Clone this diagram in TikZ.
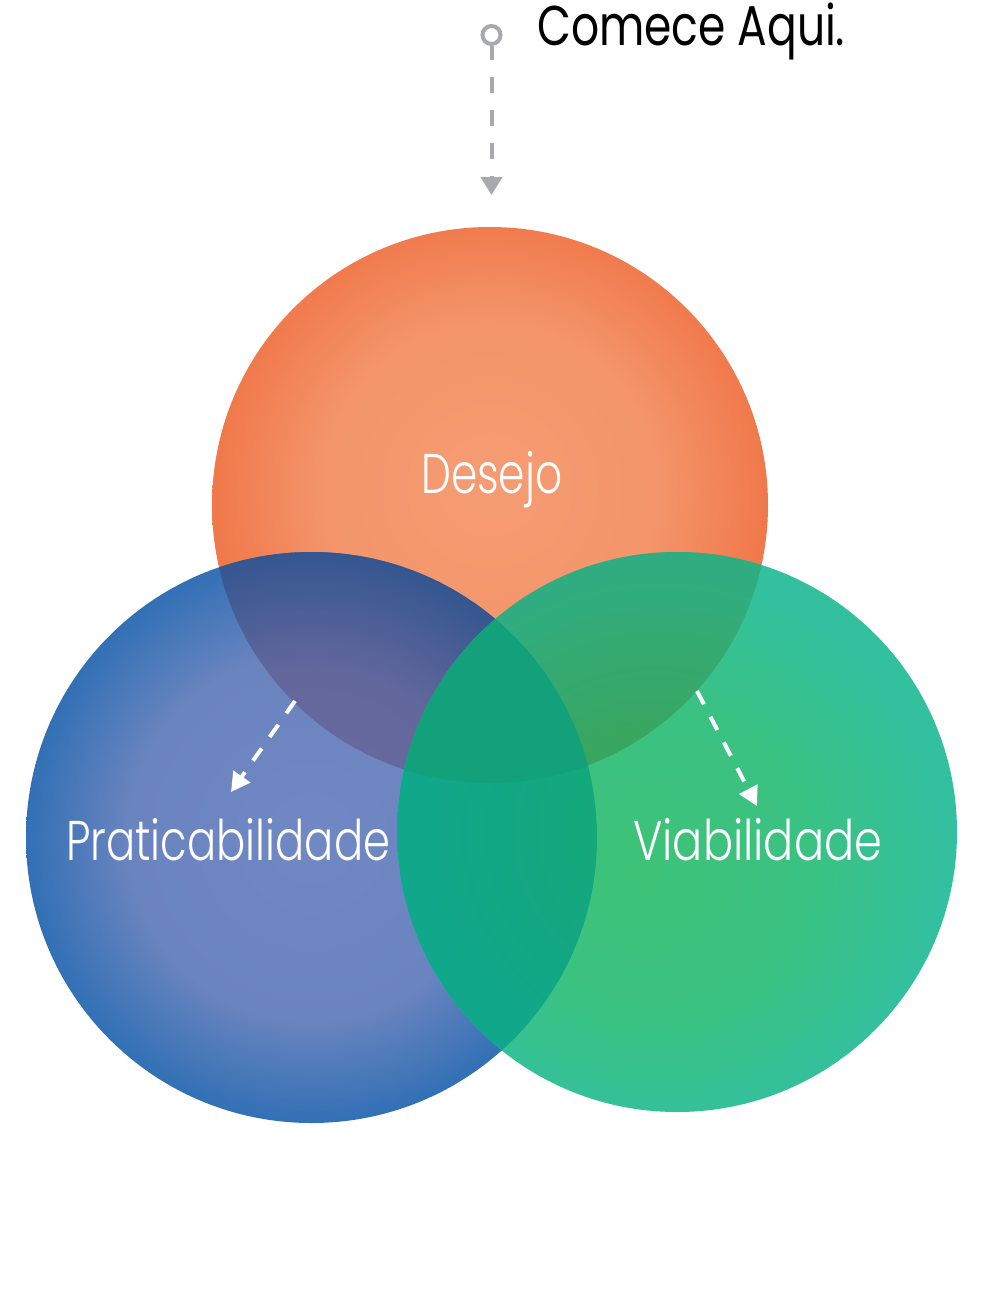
\documentclass[tikz,border=0pt]{standalone}
\usepackage{graphicx}
\usepackage{fontspec}
\newfontfamily\labelfont{Poppins Light}
\newfontfamily\headfont{Poppins}
\usetikzlibrary{arrows.meta}

% palette
\definecolor{startgray}{HTML}{A7A9AC}
\definecolor{orA}{HTML}{F59C73}
\definecolor{orB}{HTML}{F4956B}
\definecolor{orC}{HTML}{F0784A}
\definecolor{blA}{HTML}{7088C3}
\definecolor{blB}{HTML}{6A84BF}
\definecolor{blC}{HTML}{3270B5}
\definecolor{grA}{HTML}{3EC277}
\definecolor{grB}{HTML}{3AC283}
\definecolor{grC}{HTML}{33C09E}
\definecolor{obA}{HTML}{6C6BA0}
\definecolor{obB}{HTML}{62679C}
\definecolor{obC}{HTML}{34568F}
\definecolor{ogA}{HTML}{3CA356}
\definecolor{ogB}{HTML}{39A660}
\definecolor{ogC}{HTML}{30AD80}
\definecolor{bgA}{HTML}{16A874}
\definecolor{bgC}{HTML}{10A78C}
\definecolor{tripleC}{HTML}{12A17B}

% soft radial shadings for the three sets and their overlaps
\pgfdeclareradialshading{orangeball}{\pgfpoint{0bp}{2bp}}{color(0bp)=(orA); color(15bp)=(orB); color(25bp)=(orC); color(50bp)=(orC)}
\pgfdeclareradialshading{blueball}{\pgfpoint{0bp}{0bp}}{color(0bp)=(blA); color(16bp)=(blB); color(25bp)=(blC); color(50bp)=(blC)}
\pgfdeclareradialshading{greenball}{\pgfpoint{-3bp}{-4bp}}{color(0bp)=(grA); color(14bp)=(grB); color(25bp)=(grC); color(50bp)=(grC)}
\pgfdeclareradialshading{obball}{\pgfpoint{0bp}{0bp}}{color(0bp)=(obA); color(15bp)=(obB); color(25bp)=(obC); color(50bp)=(obC)}
\pgfdeclareradialshading{ogball}{\pgfpoint{-3bp}{-4bp}}{color(0bp)=(ogA); color(12bp)=(ogB); color(25bp)=(ogC); color(50bp)=(ogC)}
\pgfdeclareradialshading{bgball}{\pgfpoint{0bp}{0bp}}{color(0bp)=(bgA); color(25bp)=(bgC); color(50bp)=(bgC)}

\tikzset{
  grayflow/.style={draw=startgray, line width=4pt, dash pattern=on 16.5pt off 16.5pt, dash phase=2.5pt,
    -{Triangle[length=18pt,width=21pt]}},
  whiteflow/.style={draw=white, line width=4pt, dash pattern=on 15pt off 14pt,
    -{Triangle[length=19pt,width=20pt]}},
  setlabel/.style={text=white, inner sep=0pt, anchor=base west,
    font=\labelfont\fontsize{56}{60}\selectfont},
  headline/.style={text=black, inner sep=0pt, anchor=base west,
    font=\headfont\fontsize{56}{60}\selectfont},
  startdot/.style={circle, draw=startgray, line width=4pt, minimum size=18pt, inner sep=0pt},
}

\begin{document}
\begin{tikzpicture}[x=1pt,y=-1pt]
\useasboundingbox (0,0) rectangle (995,1312);
\fill[white] (0,0) rectangle (995,1312);

% set centres
\coordinate (cO) at (490,505);
\coordinate (cB) at (311.5,837.5);
\coordinate (cG) at (677,832);
\def\rO{278pt}
\def\rB{285.5pt}
\def\rG{280pt}

% base circles
\shade[shading=orangeball] (cO) circle[radius=\rO];
\shade[shading=blueball] (cB) circle[radius=\rB];
\shade[shading=greenball] (cG) circle[radius=\rG];

% pairwise overlaps
\begin{scope}
  \clip (cO) circle[radius=\rO];
  \shade[shading=obball] (cB) circle[radius=\rB];
\end{scope}
\begin{scope}
  \clip (cO) circle[radius=\rO];
  \shade[shading=ogball] (cG) circle[radius=\rG];
\end{scope}
\begin{scope}
  \clip (cB) circle[radius=\rB];
  \shade[shading=bgball] (cG) circle[radius=\rG];
\end{scope}
% centre of all three
\begin{scope}
  \clip (cO) circle[radius=\rO];
  \clip (cB) circle[radius=\rB];
  \fill[tripleC] (cG) circle[radius=\rG];
\end{scope}

% labels
\node[setlabel] (desejo) at (421,493) {\resizebox{141pt}{\height}{Desejo}};
\node[setlabel] (pratic) at (66,860) {\resizebox{324pt}{\height}{Praticabilidade}};
\node[setlabel] (viab) at (633,860) {\resizebox{249pt}{\height}{Viabilidade}};
\node[headline] (comece) at (537,45) {\resizebox{308pt}{\height}{Comece Aqui.}};

% start marker and flow arrows
\node[startdot] (start) at (491.5,35) {};
\coordinate (startEnd) at (491.5,195);
\draw[grayflow] (start) -- (startEnd);

\coordinate (leftFrom) at (295,701);
\coordinate (leftTo) at (231,792);
\draw[whiteflow] (leftFrom) -- (leftTo);

\coordinate (rightFrom) at (697,691);
\coordinate (rightTo) at (757,806);
\draw[whiteflow] (rightFrom) -- (rightTo);
\end{tikzpicture}
\end{document}
